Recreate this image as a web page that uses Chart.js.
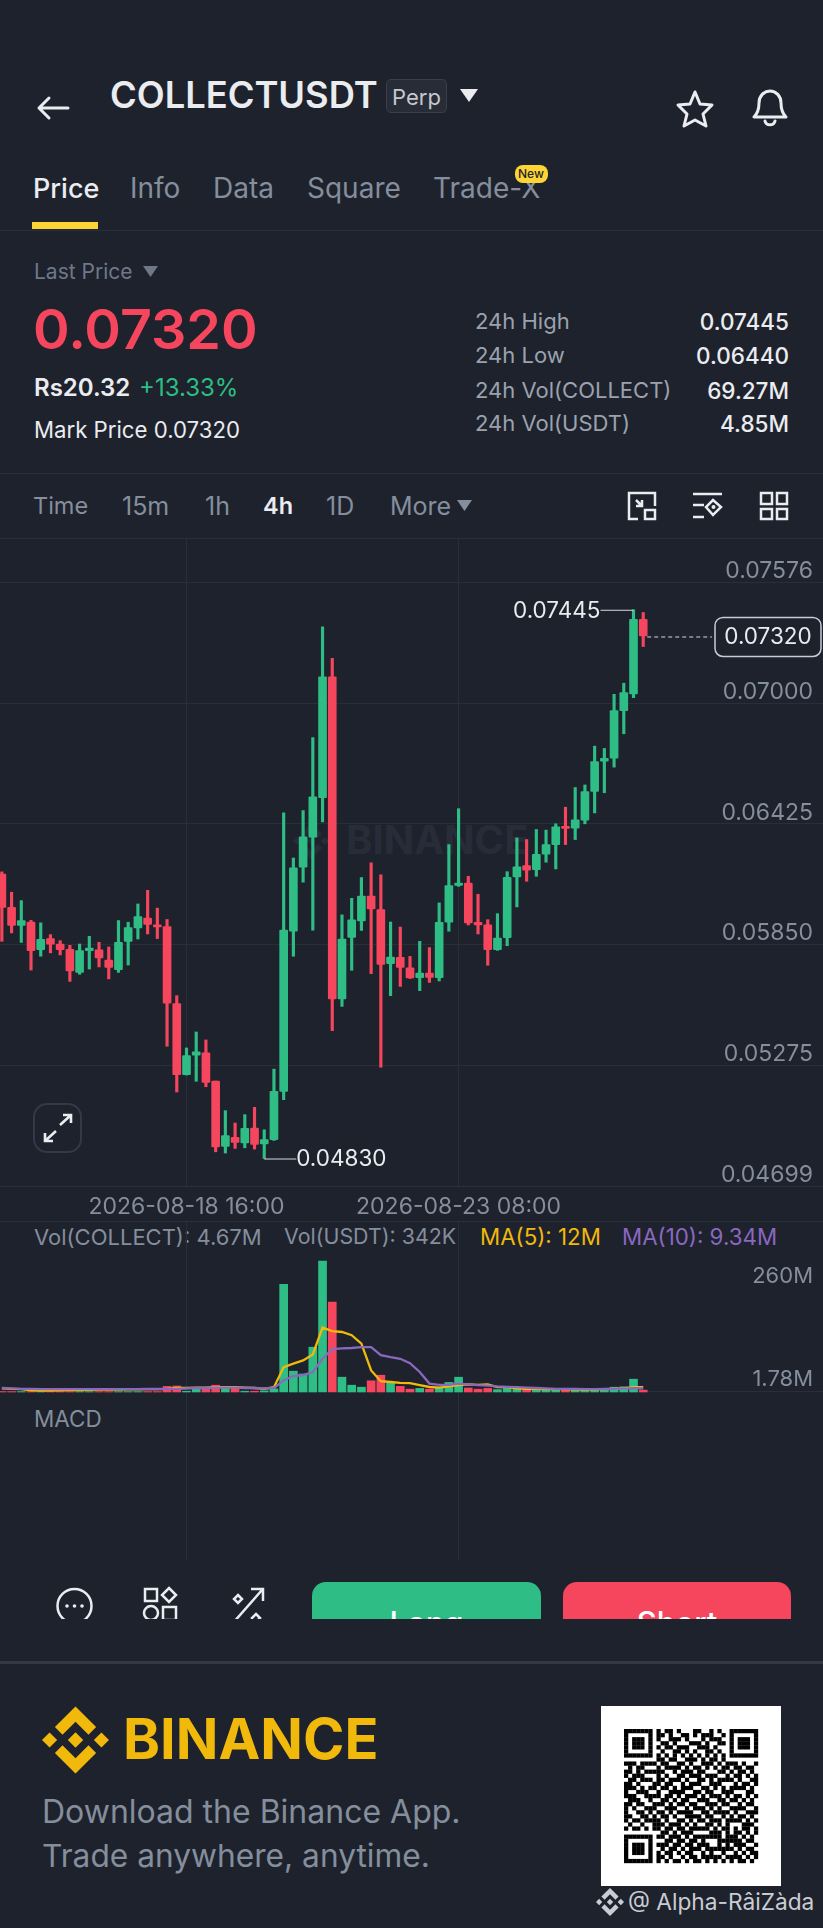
<!DOCTYPE html>
<html><head><meta charset="utf-8">
<script src="https://cdn.jsdelivr.net/npm/chart.js@4"></script>
<style>
html,body{margin:0;padding:0;background:#1e222d;width:823px;height:1928px;overflow:hidden;font-family:Inter,sans-serif}
.t{position:absolute;transform:translateY(-50%);line-height:1.2;white-space:nowrap;color:#848e9c}
.l{position:absolute;left:0;width:823px;background:#2a2e39}
svg{position:absolute;overflow:visible}
canvas{position:absolute;display:block}
</style></head><body>
<script>
const categories=["2026-08-15 12:00","2026-08-15 16:00","2026-08-15 20:00","2026-08-16 00:00","2026-08-16 04:00","2026-08-16 08:00","2026-08-16 12:00","2026-08-16 16:00","2026-08-16 20:00","2026-08-17 00:00","2026-08-17 04:00","2026-08-17 08:00","2026-08-17 12:00","2026-08-17 16:00","2026-08-17 20:00","2026-08-18 00:00","2026-08-18 04:00","2026-08-18 08:00","2026-08-18 12:00","2026-08-18 16:00","2026-08-18 20:00","2026-08-19 00:00","2026-08-19 04:00","2026-08-19 08:00","2026-08-19 12:00","2026-08-19 16:00","2026-08-19 20:00","2026-08-20 00:00","2026-08-20 04:00","2026-08-20 08:00","2026-08-20 12:00","2026-08-20 16:00","2026-08-20 20:00","2026-08-21 00:00","2026-08-21 04:00","2026-08-21 08:00","2026-08-21 12:00","2026-08-21 16:00","2026-08-21 20:00","2026-08-22 00:00","2026-08-22 04:00","2026-08-22 08:00","2026-08-22 12:00","2026-08-22 16:00","2026-08-22 20:00","2026-08-23 00:00","2026-08-23 04:00","2026-08-23 08:00","2026-08-23 12:00","2026-08-23 16:00","2026-08-23 20:00","2026-08-24 00:00","2026-08-24 04:00","2026-08-24 08:00","2026-08-24 12:00","2026-08-24 16:00","2026-08-24 20:00","2026-08-25 00:00","2026-08-25 04:00","2026-08-25 08:00","2026-08-25 12:00","2026-08-25 16:00","2026-08-25 20:00","2026-08-26 00:00","2026-08-26 04:00","2026-08-26 08:00","2026-08-26 12:00"];
const futureSlots=18;
const opens=[.06186,.06027,.05941,.05957,.05825,.05878,.05852,.05827,.05717,.05821,.05825,.05776,.05730,.05864,.05929,.05976,.05940,.05935,.05568,.05229,.05323,.05334,.05199,.04888,.04931,.04904,.04975,.04899,.04920,.05150,.05913,.06218,.06361,.06549,.07126,.05591,.05884,.05962,.06080,.06016,.05758,.05789,.05739,.05692,.05714,.05692,.05956,.06131,.06142,.05956,.05943,.05825,.05882,.06172,.06226,.06207,.06280,.06326,.06411,.06404,.06442,.06579,.06724,.06738,.06964,.07044,.07400];
const highs=[.06196,.06099,.06059,.05965,.05953,.05897,.05868,.05846,.05852,.05889,.05860,.05838,.05964,.05956,.06043,.06108,.06023,.05969,.05606,.05357,.05433,.05395,.05199,.05058,.04999,.05039,.05074,.04967,.05256,.06477,.06262,.06488,.06836,.07364,.07214,.05991,.06070,.06169,.06239,.06182,.05957,.05933,.05793,.05865,.05835,.06048,.06326,.06497,.06175,.06089,.05968,.05997,.06197,.06358,.06350,.06398,.06395,.06425,.06504,.06598,.06610,.06795,.06784,.07042,.07095,.07445,.07432];
const lows=[.05865,.05905,.05860,.05728,.05794,.05810,.05800,.05674,.05708,.05733,.05743,.05686,.05717,.05752,.05876,.05900,.05878,.05365,.05147,.05228,.05198,.05172,.04862,.04856,.04878,.04881,.04875,.04830,.04916,.05110,.05794,.06147,.05918,.06434,.05439,.05555,.05727,.05917,.05711,.05265,.05606,.05650,.05688,.05630,.05669,.05676,.05913,.06127,.05943,.05900,.05751,.05822,.05844,.06029,.06151,.06175,.06242,.06210,.06326,.06350,.06425,.06477,.06573,.06695,.06854,.07026,.07270];
const closes=[.06027,.05941,.05964,.05821,.05875,.05852,.05825,.05724,.05821,.05833,.05786,.05741,.05860,.05930,.05983,.05946,.05934,.05570,.05229,.05320,.05338,.05193,.04885,.04939,.04907,.04974,.04897,.04920,.05150,.05918,.06215,.06363,.06553,.07126,.05591,.05876,.05967,.06080,.06019,.05755,.05790,.05741,.05690,.05714,.05693,.05956,.06131,.06143,.05953,.05943,.05825,.05881,.06170,.06220,.06204,.06280,.06326,.06411,.06403,.06444,.06579,.06722,.06737,.06964,.07050,.07400,.07320];
const volumes=[1,1,1,1,1,1,1,1,1,1,1,1,1,1,1,1,1,14,15,2,7,8,17,12,10,2,2,3,8,269,52,45,112,327,225,37,17,12,28,42,22,14,7,9,7,12,24,37,10,7,9,6,9,7,8,4,7,7,7,6,4,8,8,12,13,32,4.67];
const ma5=[9,8,7,4,3.5,3.5,4,5,5,5.5,6,6,6,6.5,6.5,7,7,8,10,10,11,11,12,12,12,11,10,8,12,62,71,79,94,161,152,150,142,121,54,27,25,23,22,17,12.5,11,14,17.5,19,18,19,12,12,9,8,7,7,7,7,6,6,6.5,7,8,9,12,12];
const ma10=[10,9,8,8,7,7,7,7,7,7,7,7,7,7,7,7.5,7.5,8,8,9,10,10,11,11,11,10,10,9,10,29,40,42,50,83,107,109,110,112,112,92,87,83,72,50,21,18,18,21,19,17,16,14,13,12,11,10,9,8,8,7.5,7,7,7.5,8,8.5,9.34,9.34];
const priceTicks=[0.07576,0.07000,0.06425,0.05850,0.05275,0.04699];
const volumeTicks=[260,1.78];
const timeTickIndex=[19,47];
const highMark="0.07445", lowMark="0.04830", lastMark="0.07320";
const highIndex=65, lowIndex=27;

const headerTexts=[
 [110,96,"COLLECTUSDT",{s:36.3,w:600,c:"#eaecef"}],
 [392,97,"Perp",{s:22,w:400,c:"#c4c8cf"}],
 [33,189,"Price",{s:27,w:500,c:"#eaecef"}],[130,189,"Info",{s:28}],[213,189,"Data",{s:28}],[307,189,"Square",{s:28}],[433,189,"Trade-X",{s:28}],
 [34,272,"Last Price",{s:21,c:"#6f7889"}],
 [33,329,"0.07320",{s:55.6,w:600,c:"#f6465d"}],
 [34,388,"Rs20.32",{s:24,w:600,c:"#eaecef"}],[139,388,"+13.33%",{s:24,w:400,c:"#2ebd85"}],
 [34,430,"Mark Price 0.07320",{s:22.2,c:"#eaecef"}],
 [475,321,"24h High",{s:22,c:"#9ba2ae"}],[475,355,"24h Low",{s:22,c:"#9ba2ae"}],[475,390,"24h Vol(COLLECT)",{s:22,c:"#9ba2ae"}],[475,423,"24h Vol(USDT)",{s:22,c:"#9ba2ae"}],
 [33,506,"Time",{s:23.5}],[122,506,"15m",{s:25}],[205,506,"1h",{s:25}],[263,506,"4h",{s:23.5,w:600,c:"#eaecef"}],[326,506,"1D",{s:25}],[390,506,"More",{s:25}],
 [34,1237,"Vol(COLLECT): 4.67M",{s:22}],[284,1237,"Vol(USDT): 342K",{s:21.4}],[480,1237,"MA(5): 12M",{s:22.3,c:"#f0b90b"}],[622,1237,"MA(10): 9.34M",{s:22.3,c:"#8a68c0"}],
 [34,1418,"MACD",{s:22.5}],
 [123,1740,"BINANCE",{s:56,w:700,c:"#f0b90b"}],
 [42,1812,"Download the Binance App.",{s:32,c:"#848e9c"}],[42,1856,"Trade anywhere, anytime.",{s:31.7,c:"#848e9c"}],
 [628,1902,"@ Alpha-RâiZàda",{s:22.7,c:"#c9ccd2"}]
];
const rightTexts=[[789,321,"0.07445"],[789,355,"0.06440"],[789,390,"69.27M"],[789,423,"4.85M"]];
const qrRows=["111111101011010001100101001111111","100000101101001101011100101000001","101110101001110100010111001011101","101110100110100011101001101011101","101110101011011100111010001011101","100000100100110101001101001000001","111111101010101010101010101111111","000000001101100111010110100000000","111011110110011010011101011101001","010110001011110101101010110110110","110101111100101110110001101011010","101110001010011011101110010110101","011011101101110100110101111010011","110100011011001011100111000101101","111010110110101110011010101111010","100111001001111001101100111000110","111001111011010111010111010110101","011100100110101100111001101101010","110110011101011011001110110010110","101001110011100101110101001111001","100110101101011110011011110100111","110011010110100111101100101011010","101101111010011010110111011110101","010010011101110101001101010001110","101101011011011011111010110101101","000000000110101110000111010110101","111111101101110101111111011101010","100000100011011011010001111110110","101110101110110110111001010111001","101110100101101011101111111010110","101110101011010110010100100101011","100000101101001011011111011110101","111111101010110101101010101011010"];
const logoPath="M38.73 53.2l24.59-24.58 24.6 24.6 14.3-14.31L63.32 0l-38.9 38.9zM0 63.31l14.3-14.31 14.31 14.31-14.31 14.3zM38.73 73.41l24.59 24.59 24.6-24.6 14.31 14.29-38.9 38.91-38.91-38.88-.02-.02zM98 63.31l14.3-14.31 14.31 14.3-14.31 14.32zM77.83 63.3L63.32 48.78 52.59 59.51l-1.24 1.23-2.54 2.54 14.51 14.5 14.51-14.47z";

const GREEN="#2ebd85",RED="#f6465d",GRID="#2a2e39",AXIS="#848e9c",FONT="Inter, sans-serif";
const B=document.body;
function el(html){const d=document.createElement('div');d.innerHTML=html;const n=d.firstElementChild;B.appendChild(n);return n;}
function line(y,h,c){el(`<div class="l" style="top:${y}px;height:${h}px;background:${c||GRID}"></div>`);}
function box(x,y,w,h,css){return el(`<div style="position:absolute;left:${x}px;top:${y}px;width:${w}px;height:${h}px;${css}"></div>`);}
function svg(x,y,w,h,vb,inner){el(`<svg style="left:${x}px;top:${y}px" width="${w}" height="${h}" viewBox="${vb}" fill="none">${inner}</svg>`);}
function tri(x,y,w,h,c){svg(x,y,w,h,`0 0 ${w} ${h}`,`<path d="M0 0H${w}L${w/2} ${h}Z" fill="${c}"/>`);}

[[229.5,1],[473,1],[538,1],[1186,1],[1221,1]].forEach(a=>line(a[0],a[1]));
line(1661,3,"#343844");
box(386,79,61,34,"background:#282c36;border:1px solid #3a3f4b;border-radius:5px;box-sizing:border-box");
box(32,222,66,7,"background:#fcd535");
headerTexts.forEach(([x,y,s,o])=>el(`<div class="t" style="left:${x}px;top:${y}px;font-size:${o.s}px;font-weight:${o.w||400};color:${o.c||AXIS}">${s}</div>`));
rightTexts.forEach(([x,y,s])=>el(`<div class="t" style="right:${823-x}px;top:${y}px;font-size:22.5px;font-weight:500;color:#eaecef">${s}</div>`));
box(515,165,33,18,"background:#fcd535;border-radius:8px");
el(`<div class="t" style="left:518px;top:174px;font-size:12px;font-weight:500;color:#1e222d">New</div>`);
tri(460,89,18,13,"#eaecef");tri(143,266,15,11,"#6f7889");tri(457,500,15,11,"#848e9c");
const W='stroke="#eaecef" stroke-width="3" stroke-linecap="round" stroke-linejoin="round"';
svg(37,96,32,24,"0 0 32 24",`<path d="M31 12H2M12 2L2 12L12 22" ${W}/>`);
svg(677,90,36,37,"0 0 36 37",`<path d="M18 2L23 14L35 15L26 24L29 36L18 30L7 36L10 24L1 15L13 14Z" ${W}/>`);
svg(752,89,36,38,"0 0 36 38",`<path d="M2 28H34C30 24 29 20 29 14C29 7 24 2 18 2S7 7 7 14C7 20 6 24 2 28ZM13 32C14 37 22 37 23 32" ${W}/>`);
const I='stroke="#eaecef" stroke-width="2.5"';
svg(628,492,28,28,"0 0 28 28",`<path d="M10 27H1V1H27V14M8 8L14 14M14 8V14H8" ${I}/><rect x="17" y="18" width="10" height="9" ${I}/>`);
svg(692,492,31,28,"0 0 31 28",`<path d="M1 2H30M1 13H12M1 25H12" ${I}/><path d="M21 8L29 15L21 23L14 15Z" ${I}/><circle cx="21.500" cy="15" r="2" fill="#eaecef"/>`);
svg(760,492,28,28,"0 0 28 28",`<rect x="1" y="1" width="11" height="11" ${I}/><rect x="17" y="1" width="10" height="11" ${I}/><rect x="1" y="17" width="11" height="10" ${I}/><rect x="17" y="17" width="10" height="10" ${I}/>`);

/* faint chart watermark sits beneath the transparent canvases */
svg(293,823,36,36,"0 0 126.61 126.61",`<path d="${logoPath}" fill="#282c38"/>`);
el(`<div class="t" style="left:346px;top:840px;font-size:40px;font-weight:700;color:#282c38">BINANCE</div>`);

function mk(top,h){const wrap=box(0,top,823,h,"overflow:hidden");const c=document.createElement('canvas');c.width=826;c.height=h;c.style.cssText=`left:-3px;top:0;width:826px;height:${h}px`;wrap.appendChild(c);return c;}
const labels=categories.concat(Array(futureSlots).fill(""));
const candleColors=opens.map((o,i)=>closes[i]>=o?GREEN:RED);

function xScale(showLabels,axisH){return {
  type:'category',offset:true,
  grid:{offset:false,color:GRID,lineWidth:1,drawTicks:false},border:{display:false},
  afterBuildTicks:s=>{s.ticks=timeTickIndex.map(v=>({value:v}));},
  afterFit:s=>{s.height=axisH;s.paddingLeft=0;s.paddingRight=0;},
  ticks:{display:showLabels,autoSkip:false,maxRotation:0,minRotation:0,padding:7,color:AXIS,font:{family:FONT,size:23}}
};}
function yScale(min,max,vals,fmt,offs,gridFn,size){return {
  position:'right',min,max,
  grid:{color:gridFn,lineWidth:1,drawTicks:false},border:{display:false},
  afterBuildTicks:s=>{s.ticks=vals.map(v=>({value:v}));},
  afterFit:s=>{s.width=0;s.paddingTop=0;s.paddingBottom=0;},
  ticks:{mirror:true,padding:-10,labelOffset:offs,color:AXIS,font:{family:FONT,size},callback:fmt}
};}

const marks={id:'marks',afterDraw(ch){
  const {ctx,scales:{x,y}}=ch;ctx.save();
  ctx.font="22.5px "+FONT;ctx.textBaseline='middle';
  ctx.strokeStyle="#d7d9dd";ctx.lineWidth=1;ctx.fillStyle="#eaecef";
  const hx=x.getPixelForValue(highIndex),hy=y.getPixelForValue(parseFloat(highMark));
  ctx.beginPath();ctx.moveTo(hx-33,hy+.5);ctx.lineTo(hx,hy+.5);ctx.stroke();
  ctx.textAlign='right';ctx.fillText(highMark,hx-33,hy+1);
  const lx=x.getPixelForValue(lowIndex),ly=y.getPixelForValue(parseFloat(lowMark));
  ctx.beginPath();ctx.moveTo(lx,ly+.5);ctx.lineTo(lx+32,ly+.5);ctx.stroke();
  ctx.textAlign='left';ctx.fillText(lowMark,lx+32,ly+1);
  const px=x.getPixelForValue(opens.length-1),py=y.getPixelForValue(parseFloat(lastMark))+1;
  ctx.setLineDash([4,3]);ctx.beginPath();ctx.moveTo(px+4,py);ctx.lineTo(715,py);ctx.stroke();ctx.setLineDash([]);
  ctx.fillStyle="#1e222d";ctx.strokeStyle="#c9ccd2";ctx.lineWidth=1.5;
  ctx.beginPath();ctx.roundRect(718,py-19.5,106,39,8);ctx.fill();ctx.stroke();
  ctx.fillStyle="#eaecef";ctx.textAlign='center';ctx.fillText(lastMark,771,py+.5);
  ctx.restore();
}};

new Chart(mk(538,684),{type:'bar',plugins:[marks],data:{labels,datasets:[
  {label:'Low–High',data:lows.map((l,i)=>[l,highs[i]]),backgroundColor:candleColors,barThickness:2.5,grouped:false,order:2},
  {label:'Open–Close',data:opens.map((o,i)=>[o,closes[i]]),backgroundColor:candleColors,barThickness:8,grouped:false,minBarLength:2,borderRadius:1,borderSkipped:false,order:1}
]},options:{responsive:false,animation:false,layout:{padding:0},
  plugins:{legend:{display:false},tooltip:{enabled:false}},
  scales:{x:xScale(true,36),y:yScale(0.04699,0.07787,priceTicks,v=>v.toFixed(5),-11,()=>GRID,23)}
}});

new Chart(mk(1222,338),{data:{labels,datasets:[
  {type:'line',label:'MA(5)',data:ma5,borderColor:"#f0b90b",borderWidth:2.3,pointRadius:0,order:1},
  {type:'line',label:'MA(10)',data:ma10,borderColor:"#8a68c0",borderWidth:2.3,pointRadius:0,order:0},
  {type:'bar',label:'Volume',data:volumes,backgroundColor:candleColors,barThickness:8,order:2}
]},options:{responsive:false,animation:false,layout:{padding:0},
  plugins:{legend:{display:false},tooltip:{enabled:false}},
  scales:{x:xScale(false,0),y:yScale(-420,425,volumeTicks,v=>v+"M",-12,c=>c.tick&&c.tick.value===1.78?GRID:"transparent",22)}
}});

/* expand button */
box(33,1103,49,50,"border:2px solid #343945;border-radius:14px;box-sizing:border-box");
svg(43,1114,30,28,"0 0 30 28",`<path d="M17 11L28 1M20 1H28V9M13 17L2 27M2 19V27H10" stroke="#eaecef" stroke-width="2.6"/>`);

/* bottom action bar, cropped at the share-card edge */
const bar=box(0,1570,823,49,"overflow:hidden");
function barEl(h){const d=document.createElement('div');d.innerHTML=h;bar.appendChild(d.firstElementChild);}
barEl(`<div style="position:absolute;left:312px;top:12px;width:229px;height:70px;border-radius:14px;background:#2ebd85;color:#fff;font:500 31px Inter,sans-serif;text-align:center;line-height:82px">Long</div>`);
barEl(`<div style="position:absolute;left:563px;top:12px;width:228px;height:70px;border-radius:14px;background:#f6465d;color:#fff;font:500 31px Inter,sans-serif;text-align:center;line-height:82px">Short</div>`);
const Q='stroke="#eaecef" stroke-width="2.5"';
barEl(`<svg style="left:56px;top:17px" width="37" height="40" viewBox="0 0 37 40" fill="none"><circle cx="18.500" cy="19" r="17" ${Q}/><circle cx="11" cy="19" r="1.8" fill="#eaecef"/><circle cx="18.500" cy="19" r="1.800" fill="#eaecef"/><circle cx="26" cy="19" r="1.800" fill="#eaecef"/></svg>`);
barEl(`<svg style="left:143px;top:17px" width="35" height="38" viewBox="0 0 35 38" fill="none"><rect x="2" y="2" width="12" height="12" ${Q}/><path d="M26 1L33 8L26 15L19 8Z" ${Q}/><circle cx="8" cy="26" r="7" ${Q}/><rect x="20" y="20" width="13" height="13" ${Q}/></svg>`);
barEl(`<svg style="left:231px;top:17px" width="34" height="38" viewBox="0 0 34 38" fill="none"><path d="M2 36L31 3M20 2H32V14" ${Q}/><path d="M7 8L11 12L7 16L3 12Z" ${Q}/><path d="M25 27L29 31L25 35L21 31Z" ${Q}/></svg>`);

/* footer */
svg(42,1706,67,68,"0 0 126.61 126.61",`<path d="${logoPath}" fill="#f0b90b"/>`);
svg(596,1888,28,28,"0 0 126.61 126.61",`<path d="${logoPath}" fill="#c9ccd2"/>`);
box(601,1706,180,180,"background:#fff");
const m=4.06;let q='';
qrRows.forEach((r,j)=>[...r].forEach((b,i)=>{if(b==='1')q+=`<rect x="${(i*m).toFixed(2)}" y="${(j*m).toFixed(2)}" width="${m+.2}" height="${m+.2}"/>`;}));
svg(624,1729,134,134,"0 0 134 134",`<g fill="#000">${q}</g>`);
</script>
</body></html>
